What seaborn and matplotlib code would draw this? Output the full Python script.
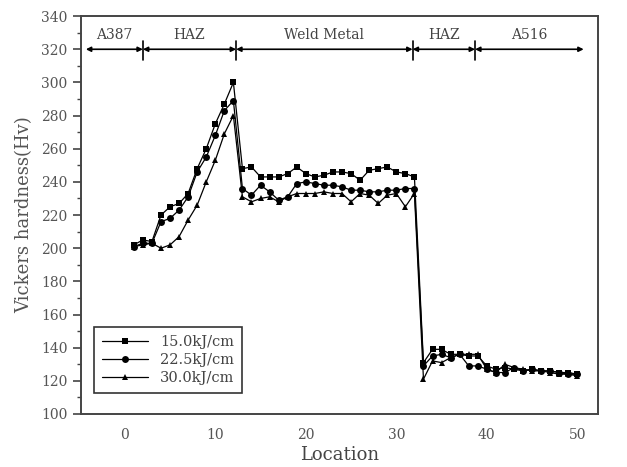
import numpy as np
import pandas as pd
import matplotlib
matplotlib.use("Agg")
import matplotlib.pyplot as plt
from matplotlib.ticker import MultipleLocator
import seaborn as sns

# Vickers hardness across the weld
location = list(range(1, 51))
hv_15 = [202, 205, 204, 220, 225, 227, 233, 248, 260, 275, 287, 300,
         248, 249, 243, 243, 243, 245, 249, 245, 243, 244, 246, 246, 245, 241, 247, 248, 249, 246, 245, 243,
         131, 139, 139, 136, 136, 135, 135, 129, 127, 128, 127, 126, 127, 126, 126, 125, 125, 124]
hv_225 = [201, 203, 203, 216, 218, 223, 231, 246, 255, 268, 283, 289,
          236, 232, 238, 234, 229, 231, 239, 240, 239, 238, 238, 237, 235, 235, 234, 234, 235, 235, 236, 236,
          129, 135, 136, 134, 136, 129, 129, 127, 125, 125, 128, 126, 127, 126, 126, 125, 124, 124]
hv_30 = [201, 202, 203, 200, 202, 207, 217, 226, 240, 253, 269, 280,
         231, 228, 230, 231, 228, 231, 233, 233, 233, 234, 233, 233, 228, 233, 232, 227, 232, 233, 225, 233,
         121, 132, 131, 134, 136, 136, 136, 127, 125, 130, 128, 127, 126, 126, 125, 124, 124, 123]
series_names = ["15.0kJ/cm", "22.5kJ/cm", "30.0kJ/cm"]

# zone boundaries and labels along the top
zone_edges = [-4.3, 2, 12.3, 31.8, 38.7, 50.7]
zone_names = ["A387", "HAZ", "Weld Metal", "HAZ", "A516"]

df = pd.DataFrame({
    "Location": location * 3,
    "Hv": hv_15 + hv_225 + hv_30,
    "Heat input": np.repeat(series_names, len(location)),
})

sns.set_style("ticks")
plt.rcParams["font.family"] = ["DejaVu Serif"]

fig = plt.figure(figsize=(6.27, 4.67), dpi=100)
ax = fig.add_axes([0.129, 0.1135, 0.825, 0.852])

sns.lineplot(data=df, x="Location", y="Hv", hue="Heat input", style="Heat input",
             palette=["black"] * 3, markers=["s", "o", "^"], dashes=False,
             markersize=5, linewidth=0.9, markeredgewidth=0, ax=ax)

ax.set_xlim(-4.85, 52.3)
ax.set_ylim(100, 340)
ax.xaxis.set_major_locator(MultipleLocator(10))
ax.yaxis.set_major_locator(MultipleLocator(20))
ax.yaxis.set_minor_locator(MultipleLocator(10))
ax.tick_params(axis="x", length=0, pad=10, labelsize=10, labelcolor="#555555")
ax.tick_params(axis="y", which="major", length=6, width=1.2, color="#444444",
               labelsize=10, labelcolor="#555555")
ax.tick_params(axis="y", which="minor", length=3, width=1.0, color="#444444")
for sp in ax.spines.values():
    sp.set_color("#444444")
    sp.set_linewidth(1.4)

ax.set_xlabel("Location", fontsize=13, color="#444444", labelpad=3)
ax.set_ylabel("Vickers hardness(Hv)", fontsize=13, color="#555555", labelpad=6)

# zone arrows
for i in range(len(zone_names)):
    a, b = zone_edges[i], zone_edges[i + 1]
    ax.annotate("", xy=(a, 320), xytext=(b, 320),
                arrowprops=dict(arrowstyle="<|-|>", color="black", lw=1.2,
                                mutation_scale=7, shrinkA=0, shrinkB=0))
    ax.text((a + b) / 2, 324.5, zone_names[i], ha="center", va="bottom",
            fontsize=10, color="#444444")
for e in zone_edges[1:-1]:
    ax.plot([e, e], [313.5, 325], color="black", lw=1.2)

leg = ax.legend(loc="lower left", bbox_to_anchor=(0.012, 0.035), fontsize=10.5,
                frameon=True, fancybox=False, edgecolor="black", handlelength=3.2,
                labelspacing=0.3, borderpad=0.5)
leg.get_frame().set_linewidth(1.2)
for t in leg.get_texts():
    t.set_color("#444444")

fig.savefig("out.png", dpi=100)
